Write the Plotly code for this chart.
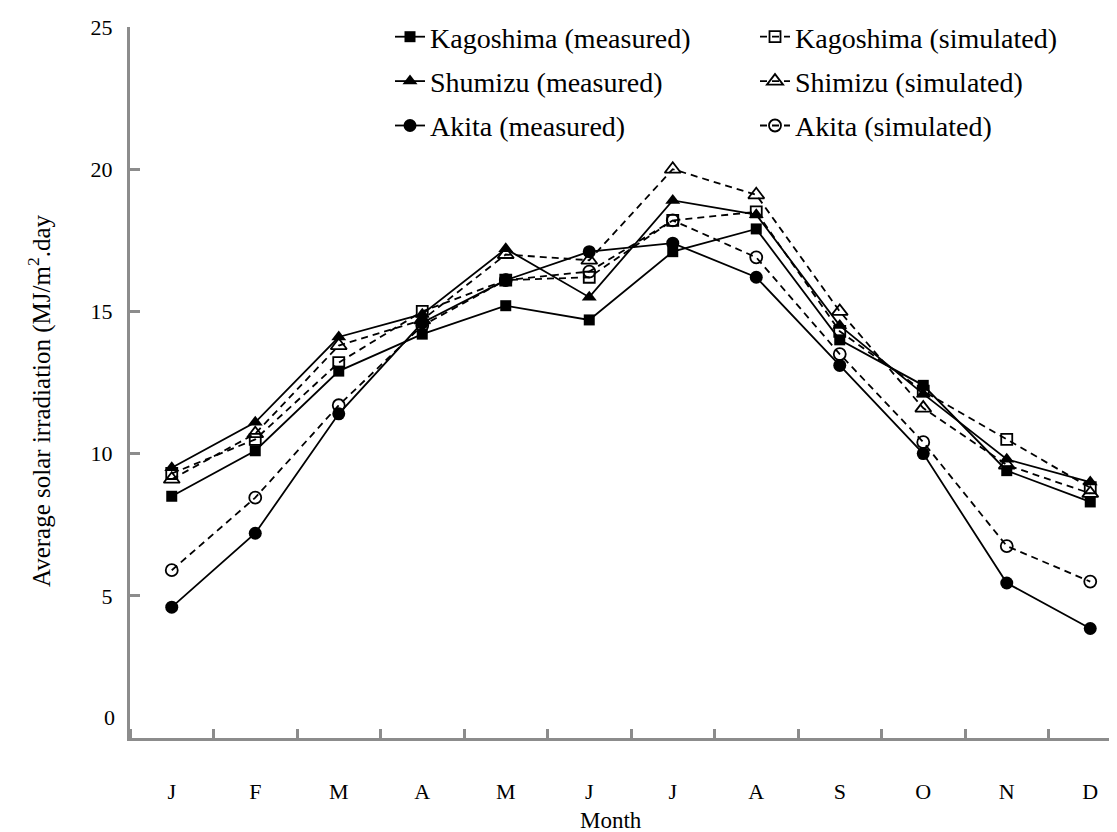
import plotly.graph_objects as go

months = ["J", "F", "M", "A", "M", "J", "J", "A", "S", "O", "N", "D"]
x_idx = list(range(12))

kagoshima_measured = [8.5, 10.1, 12.9, 14.2, 15.2, 14.7, 17.1, 17.9, 14.0, 12.4, 9.4, 8.3]
kagoshima_simulated = [9.3, 10.5, 13.2, 15.0, 16.1, 16.2, 18.2, 18.5, 14.3, 12.2, 10.5, 8.8]
shimizu_measured = [9.5, 11.1, 14.1, 14.9, 17.2, 15.5, 18.9, 18.4, 14.5, 12.1, 9.8, 9.0]
shimizu_simulated = [9.1, 10.7, 13.8, 14.7, 17.0, 16.8, 20.0, 19.1, 15.0, 11.6, 9.6, 8.6]
akita_measured = [4.6, 7.2, 11.4, 14.6, 16.1, 17.1, 17.4, 16.2, 13.1, 10.0, 5.45, 3.85]
akita_simulated = [5.9, 8.45, 11.7, 14.5, 16.1, 16.4, 18.2, 16.9, 13.5, 10.4, 6.75, 5.5]

y_ticks = [5, 10, 15, 20, 25]

FONT = "Liberation Serif"
AXIS_GREY = "#8c8c8c"

# page body adds an 8px offset; layout coordinates below are screen - 8
OFF = 8
L, T = 130 - OFF, 27 - OFF
B_SCREEN = 738
PLOT_H = B_SCREEN - 27
PLOT_W = 1117 - L

fig = go.Figure()

meas = [
    ("Kagoshima (measured)", kagoshima_measured, "square", 11),
    ("Shumizu (measured)", shimizu_measured, "triangle-up", 13),
    ("Akita (measured)", akita_measured, "circle", 13),
]
sim = [
    ("Kagoshima (simulated)", kagoshima_simulated, "square-open", 11),
    ("Shimizu (simulated)", shimizu_simulated, "triangle-up-open", 14),
    ("Akita (simulated)", akita_simulated, "circle-open", 12),
]

traces = []
for i, (name, vals, sym, size) in enumerate(sim):
    traces.append(go.Scatter(
        x=x_idx, y=vals, name=name, mode="lines+markers",
        line=dict(color="black", width=1.8, dash="7px,5px"),
        marker=dict(symbol=sym, size=size, color="black", line=dict(width=1.8, color="black")),
        legend="legend2", legendgroup="s%d" % i, legendrank=i + 1,
    ))
for i, (name, vals, sym, size) in enumerate(meas):
    traces.append(go.Scatter(
        x=x_idx, y=vals, name=name, mode="lines+markers",
        line=dict(color="black", width=1.8),
        marker=dict(symbol=sym, size=size, color="black"),
        legend="legend", legendgroup="m%d" % i, legendrank=i + 1,
    ))
for t in traces:
    fig.add_trace(t)

cat_px = 83.5
fig.update_xaxes(
    range=[-0.5, -0.5 + PLOT_W / cat_px],
    tickmode="array", tickvals=x_idx, ticktext=months,
    showline=True, linecolor=AXIS_GREY, linewidth=3,
    ticks="",
    minor=dict(ticks="inside", tick0=0.5, dtick=1, ticklen=9, tickwidth=3,
               tickcolor=AXIS_GREY, showgrid=False),
    showgrid=False, zeroline=False, automargin=False,
    tickfont=dict(family=FONT, size=22, color="black"),
    ticklabelstandoff=32,
)
fig.update_yaxes(
    range=[0, 25],
    tickmode="array", tickvals=y_ticks, ticktext=[str(v) for v in y_ticks],
    showline=True, linecolor=AXIS_GREY, linewidth=3,
    ticks="inside", ticklen=10, tickwidth=3, tickcolor=AXIS_GREY,
    showgrid=False, zeroline=False, automargin=False,
    tickfont=dict(family=FONT, size=22, color="black"),
    ticklabelstandoff=10,
)

def py(screen_y):
    return (B_SCREEN - screen_y) / PLOT_H

def px(screen_x):
    return (screen_x - 130) / PLOT_W

legend_common = dict(
    orientation="v", yanchor="top", xanchor="left",
    font=dict(family=FONT, size=28, color="black"),
    bgcolor="rgba(0,0,0,0)", borderwidth=0,
    tracegroupgap=5, itemwidth=30,
)
fig.update_layout(
    width=1117, height=832,
    margin=dict(l=L, r=0, t=T, b=832 - (B_SCREEN - OFF)),
    paper_bgcolor="white", plot_bgcolor="white",
    showlegend=True,
    legend=dict(x=px(390), y=py(12), **legend_common),
    legend2=dict(x=px(755), y=py(12), **legend_common),
    annotations=[
        dict(text="0", xref="paper", yref="y", x=0, y=0, xanchor="right", yanchor="middle",
             xshift=-13, yshift=21, showarrow=False,
             font=dict(family=FONT, size=22, color="black")),
        dict(text="Month", xref="paper", yref="paper", x=px(611), y=py(820),
             xanchor="center", yanchor="middle", showarrow=False,
             font=dict(family=FONT, size=23, color="black")),
        dict(text="Average solar irradiation (MJ/m<sup>2</sup>.day", xref="paper", yref="paper",
             x=px(40), y=py(401), xanchor="center", yanchor="middle",
             textangle=-90, showarrow=False,
             font=dict(family=FONT, size=25, color="black")),
    ],
)

fig.write_html("out.html")
